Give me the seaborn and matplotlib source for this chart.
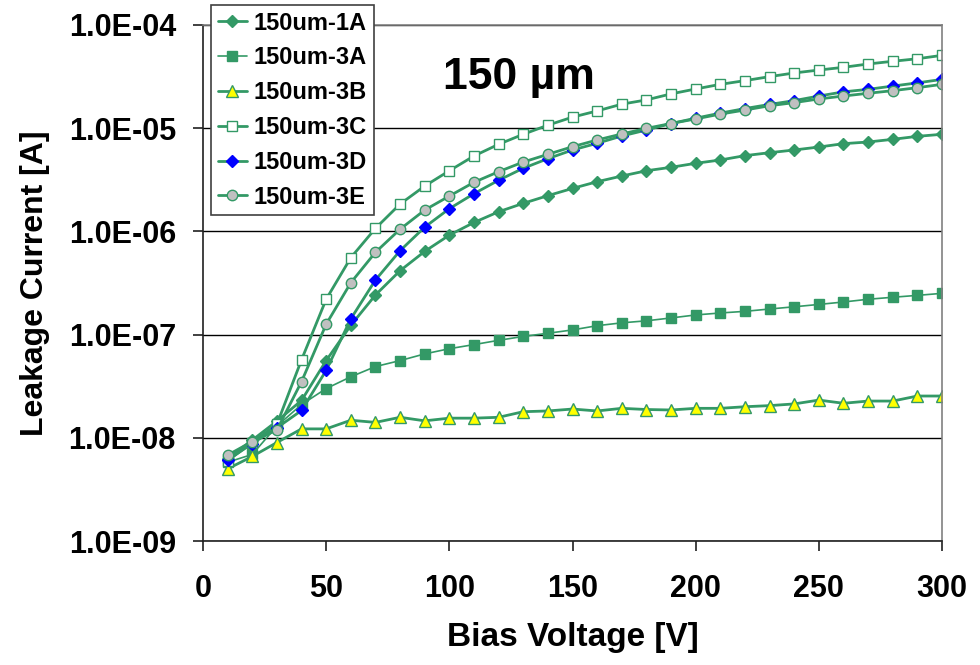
import numpy as np
import pandas as pd
import matplotlib
matplotlib.use("Agg")
import matplotlib.pyplot as plt
import seaborn as sns
from matplotlib.ticker import FixedLocator, FuncFormatter, NullLocator

# Bias voltage steps [V]
voltage = [10, 20, 30, 40, 50, 60, 70, 80, 90, 100,
           110, 120, 130, 140, 150, 160, 170, 180, 190, 200,
           210, 220, 230, 240, 250, 260, 270, 280, 290, 300]

# Leakage current [A] per sensor
i_1A = [6.3e-9, 9.5e-9, 1.45e-8, 2.3e-8, 5.6e-8, 1.23e-7, 2.42e-7, 4.16e-7, 6.4e-7, 9.2e-7,
        1.22e-6, 1.55e-6, 1.87e-6, 2.22e-6, 2.61e-6, 3.03e-6, 3.44e-6, 3.87e-6, 4.18e-6, 4.57e-6,
        4.92e-6, 5.42e-6, 5.79e-6, 6.15e-6, 6.57e-6, 7.08e-6, 7.35e-6, 7.8e-6, 8.34e-6, 8.73e-6]
i_3A = [5.8e-9, 6.9e-9, 1.3e-8, 2.1e-8, 3.0e-8, 3.9e-8, 4.9e-8, 5.6e-8, 6.5e-8, 7.3e-8,
        8.0e-8, 8.8e-8, 9.6e-8, 1.03e-7, 1.11e-7, 1.22e-7, 1.3e-7, 1.36e-7, 1.45e-7, 1.55e-7,
        1.62e-7, 1.68e-7, 1.77e-7, 1.86e-7, 1.96e-7, 2.07e-7, 2.2e-7, 2.3e-7, 2.4e-7, 2.51e-7]
i_3B = [5.0e-9, 6.6e-9, 9.0e-9, 1.22e-8, 1.22e-8, 1.48e-8, 1.41e-8, 1.58e-8, 1.46e-8, 1.55e-8,
        1.55e-8, 1.58e-8, 1.79e-8, 1.82e-8, 1.9e-8, 1.82e-8, 1.93e-8, 1.88e-8, 1.86e-8, 1.93e-8,
        1.93e-8, 2.0e-8, 2.05e-8, 2.13e-8, 2.32e-8, 2.16e-8, 2.27e-8, 2.27e-8, 2.54e-8, 2.54e-8]
i_3C = [6.0e-9, 9.0e-9, 1.35e-8, 5.7e-8, 2.2e-7, 5.56e-7, 1.07e-6, 1.84e-6, 2.75e-6, 3.87e-6,
        5.38e-6, 6.98e-6, 8.73e-6, 1.07e-5, 1.28e-5, 1.47e-5, 1.71e-5, 1.88e-5, 2.15e-5, 2.4e-5,
        2.66e-5, 2.89e-5, 3.16e-5, 3.43e-5, 3.66e-5, 3.89e-5, 4.19e-5, 4.45e-5, 4.71e-5, 5.08e-5]
i_3D = [6.1e-9, 8.8e-9, 1.25e-8, 1.84e-8, 4.5e-8, 1.42e-7, 3.38e-7, 6.5e-7, 1.1e-6, 1.66e-6,
        2.32e-6, 3.13e-6, 4.09e-6, 5.07e-6, 6.15e-6, 7.14e-6, 8.4e-6, 9.6e-6, 1.11e-5, 1.25e-5,
        1.4e-5, 1.55e-5, 1.7e-5, 1.85e-5, 2.05e-5, 2.25e-5, 2.38e-5, 2.56e-5, 2.75e-5, 2.97e-5]
i_3E = [6.8e-9, 9.2e-9, 1.19e-8, 3.5e-8, 1.26e-7, 3.18e-7, 6.27e-7, 1.05e-6, 1.61e-6, 2.2e-6,
        2.99e-6, 3.79e-6, 4.7e-6, 5.58e-6, 6.62e-6, 7.69e-6, 8.79e-6, 9.97e-6, 1.11e-5, 1.23e-5,
        1.37e-5, 1.5e-5, 1.65e-5, 1.77e-5, 1.92e-5, 2.05e-5, 2.18e-5, 2.31e-5, 2.47e-5, 2.66e-5]

labels = ["150um-1A", "150um-3A", "150um-3B", "150um-3C", "150um-3D", "150um-3E"]
currents = [i_1A, i_3A, i_3B, i_3C, i_3D, i_3E]

y_ticks = [1e-9, 1e-8, 1e-7, 1e-6, 1e-5, 1e-4]
x_ticks = [0, 50, 100, 150, 200, 250, 300]

df = pd.concat(
    [pd.DataFrame({"Bias Voltage [V]": voltage, "Current": c, "Sensor": lab})
     for lab, c in zip(labels, currents)],
    ignore_index=True,
)

GREEN = "#339966"
styles = {
    "150um-1A": dict(marker="D", ms=6.5, mfc=GREEN, mec=GREEN, lw=2.0),
    "150um-3A": dict(marker="s", ms=7.0, mfc=GREEN, mec=GREEN, lw=1.2),
    "150um-3B": dict(marker="^", ms=8.5, mfc="#FFFF00", mec=GREEN, lw=2.0),
    "150um-3C": dict(marker="s", ms=7.0, mfc="white", mec=GREEN, lw=2.0),
    "150um-3D": dict(marker="D", ms=6.0, mfc="#0000FF", mec="#0000FF", lw=2.0),
    "150um-3E": dict(marker="o", ms=7.5, mfc="#C0C0C0", mec=GREEN, lw=2.0),
}

sns.set_theme(style="white")
plt.rcParams["font.family"] = ["Liberation Sans", "DejaVu Sans"]
plt.rcParams["font.weight"] = "bold"
plt.rcParams["text.color"] = "black"
plt.rcParams["axes.labelcolor"] = "black"
plt.rcParams["xtick.color"] = "black"
plt.rcParams["ytick.color"] = "black"

fig = plt.figure(figsize=(9.8, 6.65), dpi=100)
ax = fig.add_axes([203 / 980, 1 - 541 / 665, (942 - 203) / 980, (541 - 25) / 665])

for lab in labels:
    st = styles[lab]
    sns.lineplot(
        data=df[df["Sensor"] == lab], x="Bias Voltage [V]", y="Current",
        ax=ax, color=GREEN, label=lab, estimator=None, sort=False,
        marker=st["marker"], markersize=st["ms"], markerfacecolor=st["mfc"],
        markeredgecolor=st["mec"], markeredgewidth=1.0, linewidth=st["lw"],
    )

ax.set_yscale("log")
ax.set_ylim(1e-9, 1e-4)
ax.set_xlim(0, 300)
ax.yaxis.set_major_locator(FixedLocator(y_ticks))
ax.yaxis.set_minor_locator(NullLocator())
ax.yaxis.set_major_formatter(FuncFormatter(lambda v, p: f"{v:.1E}"))
ax.xaxis.set_major_locator(FixedLocator(x_ticks))

ax.grid(axis="y", color="black", linewidth=1.0)
ax.grid(axis="x", visible=False)
ax.set_axisbelow(True)

for side in ["left", "bottom"]:
    ax.spines[side].set_color("#202020")
    ax.spines[side].set_linewidth(1.2)
for side in ["top", "right"]:
    ax.spines[side].set_color("#808080")
    ax.spines[side].set_linewidth(1.2)

ax.tick_params(axis="x", direction="out", length=7, width=1.2, color="#202020",
               labelcolor="black", pad=17, labelsize=22, bottom=True)
ax.tick_params(axis="y", direction="out", length=7, width=1.2, color="#202020",
               labelcolor="black", pad=12.5, labelsize=22, left=True)
for t in ax.get_xticklabels() + ax.get_yticklabels():
    t.set_fontweight("bold")

ax.set_xlabel("Bias Voltage [V]", fontsize=24, fontweight="bold", labelpad=13,
              color="black")
ax.set_ylabel("Leakage Current [A]", fontsize=23, fontweight="bold", labelpad=13,
              color="black")

ax.text(0.428, 0.899, "150 µm", transform=ax.transAxes, fontsize=32,
        fontweight="bold", ha="center", va="center", color="black")

leg = ax.legend(loc="upper left", bbox_to_anchor=(211 / 980, 1 - 5 / 665),
                bbox_transform=fig.transFigure, frameon=True, fancybox=False,
                prop={"size": 17, "weight": "bold"}, handlelength=1.25,
                handletextpad=0.28, labelspacing=0.5, borderpad=0.28,
                borderaxespad=0)
leg.get_frame().set_edgecolor("#404040")
leg.get_frame().set_linewidth(1.2)
leg.get_frame().set_facecolor("white")
leg.get_frame().set_alpha(1.0)
for t in leg.get_texts():
    t.set_color("black")

fig.savefig("out.png", dpi=100)
